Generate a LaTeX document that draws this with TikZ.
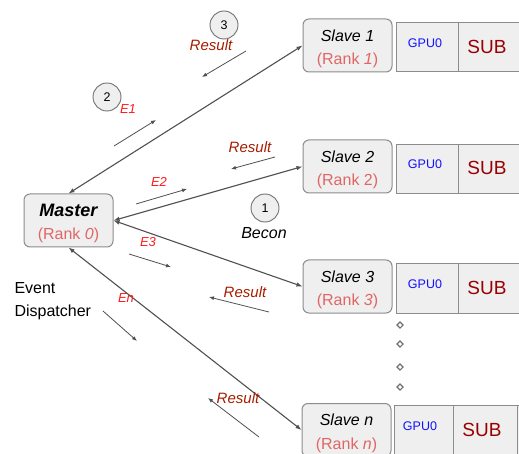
\documentclass[tikz,border=0pt]{standalone}
\usepackage{fontspec}
\setmainfont{Liberation Sans}
\usetikzlibrary{arrows.meta,shapes.geometric}
\definecolor{boxfill}{HTML}{EFEFEF}
\definecolor{boxline}{HTML}{8C8C8C}
\definecolor{markline}{HTML}{707070}
\definecolor{wire}{HTML}{505050}
\definecolor{rankpink}{HTML}{E06666}
\definecolor{resred}{HTML}{A61C00}
\definecolor{evred}{HTML}{FF1A1A}
\definecolor{gpublue}{HTML}{1111FF}
\definecolor{subred}{HTML}{990000}

% strut that lowers the two-line box text a little
\newcommand\boxlift{\rule{0pt}{18.5pt}}

\tikzset{
  rankbox/.style={draw=boxline, fill=boxfill, rounded corners=6pt, line width=1pt,
    minimum width=89pt, minimum height=53pt, align=center, inner sep=0pt,
    font=\fontsize{16}{23.5}\selectfont},
  gpubar/.style={draw=boxline, fill=boxfill, line width=0.8pt},
  gpulabel/.style={text=gpublue, font=\fontsize{12.5}{12.5}\selectfont},
  sublabel/.style={text=subred, font=\fontsize{19}{19}\selectfont},
  link/.style={draw=wire, line width=1.1pt,
    {Latex[length=6pt,width=4.5pt]}-{Latex[length=6pt,width=4.5pt]}},
  flow/.style={draw=wire, line width=0.8pt, -{Latex[length=5pt,width=4pt]}},
  stepmark/.style={circle, draw=markline, fill=boxfill, line width=0.9pt,
    minimum size=28pt, inner sep=0pt, font=\fontsize{12.5}{12.5}\selectfont},
  reslabel/.style={text=resred, font=\fontsize{15}{15}\selectfont\itshape},
  evlabel/.style={text=evred, font=\fontsize{13}{13}\selectfont\itshape},
  plainlabel/.style={font=\fontsize{16}{23}\selectfont},
  dotmark/.style={diamond, draw=markline, line width=1.1pt, minimum size=6.5pt, inner sep=0pt}
}

\begin{document}
\begin{tikzpicture}[x=1pt,y=-1pt]
\clip (0,0) rectangle (519,454);

% GPU / SUB bars behind the slave boxes
\draw[gpubar] (396,22) rectangle (522,71);
\draw[boxline, line width=0.8pt] (458,22) -- (458,71);
\draw[gpubar] (396,144) rectangle (522,193);
\draw[boxline, line width=0.8pt] (458,144) -- (458,193);
\draw[gpubar] (396,263) rectangle (522,313);
\draw[boxline, line width=0.8pt] (458,263) -- (458,313);
\draw[gpubar] (394,405) rectangle (522,460);
\draw[boxline, line width=0.8pt] (453,405) -- (453,460);
\draw[boxline, line width=0.8pt] (517,405) -- (517,460);

\node[gpulabel] (g1) at (425,43) {GPU0};
\node[sublabel] (b1) at (487,47) {SUB};
\node[gpulabel] (g2) at (425,164) {GPU0};
\node[sublabel] (b2) at (487,168) {SUB};
\node[gpulabel] (g3) at (425,284) {GPU0};
\node[sublabel] (b3) at (487,288) {SUB};
\node[gpulabel] (gn) at (420,426) {GPU0};
\node[sublabel] (bn) at (482,430) {SUB};

% master and slave boxes
\node[rankbox] (master) at (68.5,220.5)
  {\boxlift{\fontsize{18}{18}\selectfont\bfseries\itshape Master}\\{\color{rankpink}(Rank \textit{0})}};
\node[rankbox] (s1) at (347.5,45.5)
  {\boxlift\textit{Slave 1}\\{\color{rankpink}(Rank \textit{1})}};
\node[rankbox] (s2) at (347.5,166.5)
  {\boxlift\textit{Slave 2}\\{\color{rankpink}(Rank 2)}};
\node[rankbox] (s3) at (347.5,286.5)
  {\boxlift\textit{Slave 3}\\{\color{rankpink}(Rank \textit{3})}};
\node[rankbox] (sn) at (346.5,430)
  {\boxlift\textit{Slave n}\\{\color{rankpink}(Rank \textit{n})}};

% master <-> slave links
\draw[link] (master.north) -- (s1.west);
\draw[link] (master.east) -- (s2.west);
\draw[link] (master.east) -- (s3.west);
\draw[link] (master.south) -- (sn.west);

% continuation marks between slave 3 and slave n
\node[dotmark] (d1) at (400,325) {};
\node[dotmark] (d2) at (400,344) {};
\node[dotmark] (d3) at (400,367) {};
\node[dotmark] (d4) at (400,387) {};

% step markers
\node[stepmark] (c3) at (224,25) {3};
\node[stepmark] (c2) at (107,97) {2};
\node[stepmark] (c1) at (265,208) {1};
\node[plainlabel, font=\fontsize{16}{16}\selectfont\itshape] (becon) at (264,233) {Becon};

% event and result labels
\node[reslabel] (r1) at (211,45) {Result};
\node[reslabel] (r2) at (250,147) {Result};
\node[reslabel] (r3) at (245,292) {Result};
\node[reslabel] (rn) at (238,398) {Result};
\node[evlabel] (l1) at (128,109) {E1};
\node[evlabel] (l2) at (159,182) {E2};
\node[evlabel] (l3) at (148,242) {E3};
\node[evlabel] (ln) at (126,298) {En};

\node[plainlabel, align=left, anchor=north west] (disp) at (11,279) {Event\\Dispatcher};

% direction arrows
\coordinate (e1a) at (114,146);  \coordinate (e1b) at (156,120);
\coordinate (e2a) at (136,204);  \coordinate (e2b) at (187,189);
\coordinate (e3a) at (129,254);  \coordinate (e3b) at (171,267);
\coordinate (ena) at (103,311);  \coordinate (enb) at (137,341);
\coordinate (r1a) at (246,51);   \coordinate (r1b) at (202,77);
\coordinate (r2a) at (275,157);  \coordinate (r2b) at (231,169);
\coordinate (r3a) at (269,312);  \coordinate (r3b) at (209,297);
\coordinate (rna) at (259,437);  \coordinate (rnb) at (208,398);
\draw[flow] (e1a) -- (e1b);
\draw[flow] (e2a) -- (e2b);
\draw[flow] (e3a) -- (e3b);
\draw[flow] (ena) -- (enb);
\draw[flow] (r1a) -- (r1b);
\draw[flow] (r2a) -- (r2b);
\draw[flow] (r3a) -- (r3b);
\draw[flow] (rna) -- (rnb);
\end{tikzpicture}
\end{document}
